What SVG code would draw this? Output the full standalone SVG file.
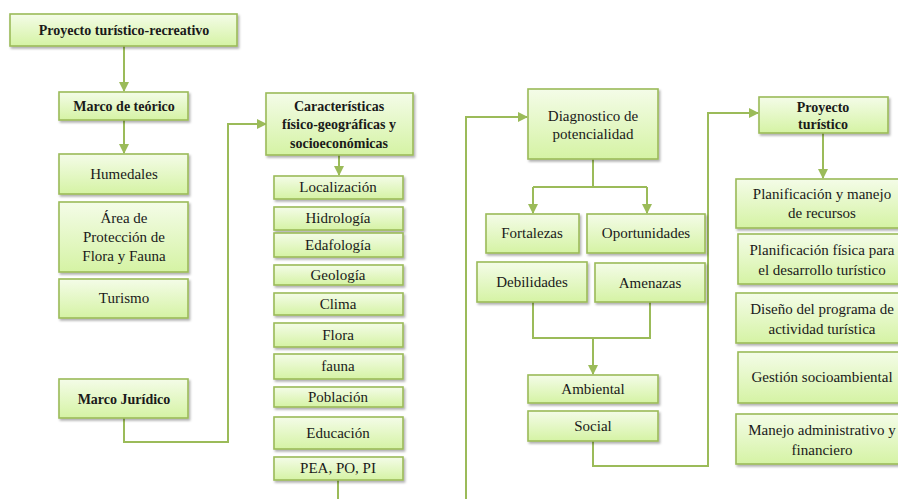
<svg xmlns="http://www.w3.org/2000/svg" width="898" height="499" viewBox="0 0 898 499" font-family="'Liberation Serif', 'DejaVu Serif', 'Times New Roman', serif">
<style>
.b{fill:url(#g);stroke:#9bbb59;stroke-width:1.6;filter:url(#sh)}
.t{font-family:'Liberation Serif','DejaVu Serif','Times New Roman',serif;font-size:15px;fill:#1a1a1a;text-anchor:middle}
.tb{font-weight:bold;font-size:14px}
.c{fill:none;stroke:#9bbb59;stroke-width:2}
</style>
<defs>
<linearGradient id="g" x1="0" y1="0" x2="0" y2="1">
<stop offset="0" stop-color="#f4fce8"/>
<stop offset="1" stop-color="#d5f3a4"/>
</linearGradient>
<filter id="sh" x="-10%" y="-10%" width="130%" height="140%">
<feDropShadow dx="1.5" dy="2" stdDeviation="1.2" flood-color="#000" flood-opacity="0.3"/>
</filter>
<marker id="a" viewBox="0 0 10 10" refX="9" refY="5" markerWidth="5" markerHeight="5" orient="auto">
<path d="M0,0 L10,5 L0,10 z" fill="#9bbb59"/>
</marker>
</defs>
<g id="connectors">
<path class="c" d="M124,46 V91" marker-end="url(#a)"/>
<path class="c" d="M124,120 V153" marker-end="url(#a)"/>
<path class="c" d="M124,418 V442 H228 V124 H266" marker-end="url(#a)"/>
<path class="c" d="M339,155 V175" marker-end="url(#a)"/>
<path class="c" d="M338,480 V499"/>
<path class="c" d="M466,499 V117 H527" marker-end="url(#a)"/>
<path class="c" d="M593,159 V187"/>
<path class="c" d="M533,187 H647"/>
<path class="c" d="M533,187 V213" marker-end="url(#a)"/>
<path class="c" d="M647,187 V213" marker-end="url(#a)"/>
<path class="c" d="M533,302 V338 H650 V302"/>
<path class="c" d="M593,338 V374" marker-end="url(#a)"/>
<path class="c" d="M593,441 V466 H708 V113 H758" marker-end="url(#a)"/>
<path class="c" d="M823,133 V178" marker-end="url(#a)"/>
</g>
<g id="n1"><rect class="b" x="10" y="14" width="227" height="32"/><text class="t tb" x="124" y="35">Proyecto turístico-recreativo</text></g>
<g id="n2"><rect class="b" x="59" y="92" width="129" height="28"/><text class="t tb" x="124" y="111">Marco de teórico</text></g>
<g id="n3"><rect class="b" x="59" y="154" width="129" height="40"/><text class="t" x="124" y="179">Humedales</text></g>
<g id="n4"><rect class="b" x="59" y="202" width="129" height="70"/><text class="t" x="124" y="223">Área de</text><text class="t" x="124" y="242">Protección de</text><text class="t" x="124" y="261">Flora y Fauna</text></g>
<g id="n5"><rect class="b" x="59" y="279" width="129" height="39"/><text class="t" x="124" y="303">Turismo</text></g>
<g id="n6"><rect class="b" x="59" y="379" width="129" height="39"/><text class="t tb" x="124" y="404">Marco Jurídico</text></g>
<g id="n7"><rect class="b" x="266" y="93" width="147" height="62"/><text class="t tb" x="339" y="111">Características</text><text class="t tb" x="339" y="129">físico-geográficas y</text><text class="t tb" x="339" y="148">socioeconómicas</text></g>
<g id="n8"><rect class="b" x="274" y="176" width="129" height="23"/><text class="t" x="338" y="192">Localización</text></g>
<g id="n9"><rect class="b" x="274" y="207" width="129" height="23"/><text class="t" x="338" y="223">Hidrología</text></g>
<g id="n10"><rect class="b" x="274" y="233" width="129" height="24"/><text class="t" x="338" y="250">Edafología</text></g>
<g id="n11"><rect class="b" x="274" y="265" width="129" height="20"/><text class="t" x="338" y="280">Geología</text></g>
<g id="n12"><rect class="b" x="274" y="293" width="129" height="22"/><text class="t" x="338" y="309">Clima</text></g>
<g id="n13"><rect class="b" x="274" y="323" width="129" height="24"/><text class="t" x="338" y="340">Flora</text></g>
<g id="n14"><rect class="b" x="274" y="354" width="129" height="25"/><text class="t" x="338" y="371">fauna</text></g>
<g id="n15"><rect class="b" x="274" y="387" width="129" height="20"/><text class="t" x="338" y="402">Población</text></g>
<g id="n16"><rect class="b" x="274" y="417" width="129" height="32"/><text class="t" x="338" y="438">Educación</text></g>
<g id="n17"><rect class="b" x="274" y="457" width="129" height="23"/><text class="t" x="338" y="473">PEA, PO, PI</text></g>
<g id="n18"><rect class="b" x="528" y="89" width="130" height="70"/><text class="t" x="593" y="121">Diagnostico de</text><text class="t" x="593" y="139">potencialidad</text></g>
<g id="n19"><rect class="b" x="486" y="214" width="93" height="39"/><text class="t" x="532" y="238">Fortalezas</text></g>
<g id="n20"><rect class="b" x="587" y="214" width="118" height="39"/><text class="t" x="646" y="238">Oportunidades</text></g>
<g id="n21"><rect class="b" x="477" y="262" width="110" height="40"/><text class="t" x="532" y="287">Debilidades</text></g>
<g id="n22"><rect class="b" x="595" y="263" width="110" height="39"/><text class="t" x="650" y="288">Amenazas</text></g>
<g id="n23"><rect class="b" x="528" y="375" width="130" height="28"/><text class="t" x="593" y="394">Ambiental</text></g>
<g id="n24"><rect class="b" x="528" y="411" width="130" height="30"/><text class="t" x="593" y="431">Social</text></g>
<g id="n25"><rect class="b" x="759" y="97" width="129" height="36"/><text class="t tb" x="823" y="112">Proyecto</text><text class="t tb" x="823" y="129">turístico</text></g>
<g id="n26"><rect class="b" x="736" y="179" width="172" height="49"/><text class="t" x="822" y="199">Planificación y manejo</text><text class="t" x="822" y="218">de recursos</text></g>
<g id="n27"><rect class="b" x="738" y="234" width="170" height="50"/><text class="t" x="822" y="255">Planificación física para</text><text class="t" x="822" y="275">el desarrollo turístico</text></g>
<g id="n28"><rect class="b" x="736" y="293" width="172" height="50"/><text class="t" x="822" y="314">Diseño del programa de</text><text class="t" x="822" y="334">actividad turística</text></g>
<g id="n29"><rect class="b" x="738" y="352" width="170" height="51"/><text class="t" x="822" y="382">Gestión socioambiental</text></g>
<g id="n30"><rect class="b" x="736" y="414" width="172" height="50"/><text class="t" x="822" y="435">Manejo administrativo y</text><text class="t" x="822" y="455">financiero</text></g>
</svg>
